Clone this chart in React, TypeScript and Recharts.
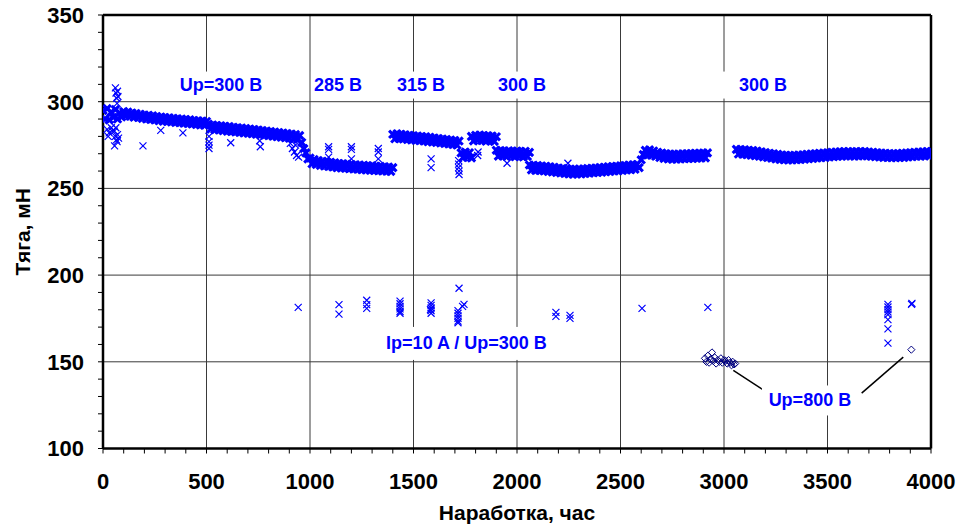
import {
  ScatterChart,
  Scatter,
  XAxis,
  YAxis,
  CartesianGrid,
  ReferenceLine,
  ReferenceDot,
} from "recharts";

// main thrust band, one reading every 10 h, starting at the given hour
const BAND_STEP = 10;

const BAND_A = [295, 290, 296, 289.5, 294, 291, 295.5, 290];
const BAND_B = [
  293.6, 291.2, 294.3, 291.8, 294.0, 291.6, 293.5, 291.0, 293.2, 290.9, 292.8,
  290.4, 292.3, 290.0, 292.1, 289.7, 291.8, 289.5, 291.4, 289.1, 291.2, 288.8,
  290.9, 288.6, 290.7, 288.3, 290.4, 288.1, 290.1, 287.9, 290.0, 287.6, 289.7,
  287.4, 289.5, 287.1, 289.2, 286.9, 289.0, 286.6, 288.8, 286.4, 288.6,
];
const BAND_C = [
  287.0, 284.2, 286.6, 283.9, 286.3, 283.7, 286.1, 283.3, 285.8, 283.0, 285.6,
  282.8, 285.3, 282.6, 285.0, 282.3, 284.8, 282.0, 284.5, 281.8, 284.2, 281.5,
  284.0, 281.2, 283.7, 281.0, 283.4, 280.7, 283.1, 280.4, 282.8, 280.1, 282.5,
  279.8, 282.2, 279.5, 281.9, 279.2, 281.6, 278.9, 281.3, 278.6, 281.0, 278.3,
  280.5,
];
const BAND_D = [
  276.5, 273, 270.5, 267, 267.5, 264.2, 266.6, 263.8, 266.1, 263.3, 265.7,
  262.9, 265.3, 262.6, 265.0, 262.3, 264.7, 262.0, 264.4, 261.8, 264.2, 261.6,
  264.0, 261.3, 263.8, 261.2, 263.6, 261.0, 263.5, 260.8, 263.3, 260.7, 263.1,
  260.5, 263.0, 260.3, 262.8, 260.2, 262.7, 260.0, 262.5, 259.9, 262.3, 259.8,
  262.0,
];
const BAND_E = [
  281.2, 278.6, 281.5, 278.8, 281.2, 278.5, 280.9, 278.2, 280.6, 278.0, 280.4,
  277.8, 280.2, 277.5, 279.9, 277.3, 279.7, 277.0, 279.4, 276.8, 279.1, 276.5,
  278.8, 276.2, 278.5, 275.9, 278.2, 275.6, 277.9, 275.3, 277.6, 275.0, 277.3,
];
const BAND_F = [270.5, 267.8, 271.0, 268.0, 270.6, 267.6];
const BAND_G = [
  280.0, 277.4, 280.6, 277.8, 280.8, 277.6, 280.5, 277.2, 280.4, 277.5, 280.2,
  277.1, 279.8,
];
const BAND_H = [
  272.0, 268.6, 271.8, 268.9, 271.5, 268.4, 271.7, 268.7, 271.4, 268.3, 271.6,
  268.5, 271.2, 268.2, 271.4, 268.4, 270.8,
];
const BAND_I = [
  263.5, 260.6, 263.3, 260.4, 263.2, 260.3, 262.9, 260.1, 262.7, 259.8, 262.4,
  259.5, 262.1, 259.2, 261.8, 258.9, 261.5, 258.6, 261.2, 258.3, 261.0, 258.2,
  261.0, 258.3, 261.1, 258.4, 261.2, 258.6, 261.4, 258.8, 261.6, 259.0, 261.8,
  259.2, 262.0, 259.4, 262.2, 259.6, 262.4, 259.8, 262.6, 260.0, 262.8, 260.2,
  263.0, 260.4, 263.2, 260.6, 263.4, 260.8, 263.6, 261.0, 263.8, 262.0,
];
const BAND_J = [
  266.5, 269.5, 272.0, 269.3, 272.2, 269.1, 271.6, 268.5, 270.8, 267.8, 270.4,
  267.3, 270.0, 267.0, 269.8, 266.9, 269.7, 266.9, 269.8, 267.0, 269.9, 267.1,
  270.0, 267.2, 270.1, 267.3, 270.2, 267.4, 270.3, 267.5, 270.4, 267.6, 270.5,
];
const BAND_K = [
  272.5, 269.8, 272.4, 269.7, 272.2, 269.5, 272.0, 269.2, 271.8, 268.9, 271.5,
  268.6, 271.1, 268.2, 270.7, 267.8, 270.3, 267.4, 269.9, 267.0, 269.6, 266.7,
  269.3, 266.5, 269.1, 266.4, 269.0, 266.4, 269.1, 266.5, 269.2, 266.7, 269.4,
  266.9, 269.6, 267.1, 269.8, 267.3, 270.0, 267.5, 270.2, 267.7, 270.4, 267.9,
  270.6, 268.1, 270.8, 268.3, 271.0, 268.5, 271.1, 268.6, 271.2, 268.7, 271.2,
  268.7, 271.1, 268.6, 271.2, 268.7, 271.3, 268.8, 271.2, 268.7, 271.0, 268.5,
  270.8, 268.3, 270.6, 268.1, 270.4, 267.9, 270.2, 267.8, 270.1, 267.7, 270.0,
  267.7, 270.1, 267.8, 270.2, 267.9, 270.4, 268.1, 270.6, 268.3, 270.8, 268.5,
  271.0, 268.6, 271.1, 268.7, 271.2, 268.8, 271.2,
];

const BAND_SEGMENTS = [
  { start: 0, values: BAND_A },
  { start: 80, values: BAND_B },
  { start: 510, values: BAND_C },
  { start: 960, values: BAND_D },
  { start: 1400, values: BAND_E },
  { start: 1730, values: BAND_F },
  { start: 1780, values: BAND_G },
  { start: 1900, values: BAND_H },
  { start: 2060, values: BAND_I },
  { start: 2600, values: BAND_J },
  { start: 3060, values: BAND_K },
];

// scattered readings around the main band [hours, mN]
const UPPER_SCATTER = [
  [20, 284], [30, 282], [40, 285], [25, 280], [45, 283],
  [60, 308], [63, 305], [66, 302], [70, 306], [68, 299], [72, 303],
  [55, 283], [60, 280], [65, 278], [70, 281], [75, 279], [62, 285], [68, 277], [56, 274.5],
  [193, 274.5], [279, 283.5], [386, 282],
  [512, 280], [512, 277], [512, 275], [512, 273],
  [617, 276.3], [757, 277.5], [760, 274],
  [905, 276], [915, 273], [925, 271], [935, 269], [945, 268], [930, 275],
  [1090, 274], [1090, 272.5], [1090, 268],
  [1200, 274], [1200, 272.5], [1200, 267],
  [1330, 273], [1330, 271], [1330, 267],
  [1585, 267], [1585, 262],
  [1718, 266], [1718, 264], [1718, 262], [1720, 260], [1720, 258],
  [1810, 269], [1812, 271],
  [1952, 264.5], [2246, 264.5],
];

// Ip=10 A readings
const LOWER_SCATTER = [
  [943, 181.4],
  [1140, 183], [1140, 177.5],
  [1274, 185.5], [1274, 183], [1274, 180.8],
  [1435, 185], [1435, 183.5], [1435, 182], [1435, 180.5], [1435, 179], [1435, 178],
  [1585, 184], [1585, 182.5], [1585, 181], [1585, 179.5], [1585, 178], [1582, 180],
  [1720, 192.4], [1744, 183.1], [1737, 182],
  [1715, 179.5], [1715, 178], [1715, 176.5], [1715, 175], [1715, 173.5], [1715, 172.5],
  [2188, 178.5], [2188, 176.2],
  [2256, 176.8], [2256, 175],
  [2604, 180.8], [2922, 181.4],
  [3792, 183.1], [3792, 181.6], [3792, 180.1], [3792, 178.7], [3792, 177.2],
  [3792, 174.3], [3792, 169], [3792, 160.8],
  [3908, 183.7], [3906, 183.2],
];

// Up=800 В readings
const DIAMONDS = [
  [2908, 152], [2915, 150], [2922, 153.5], [2928, 149.5], [2935, 151.5],
  [2942, 155.4], [2948, 150.5], [2955, 152.5], [2962, 149], [2970, 151],
  [2978, 150], [2985, 152], [2992, 149.5], [3000, 151], [3008, 150.5],
  [3015, 149], [3022, 151], [3030, 149.5], [3036, 148], [3042, 150],
  [3048, 148.5], [3054, 149],
  [3905, 157],
];

const X_TICKS = Array.from({ length: 41 }, (_, i) => i * 100);
const Y_TICKS = Array.from({ length: 26 }, (_, i) => 100 + i * 10);
const X_GRID = [0, 500, 1000, 1500, 2000, 2500, 3000, 3500, 4000];
const Y_GRID = [100, 150, 200, 250, 300, 350];

const ANNOTATIONS = [
  { text: "Up=300 В", x: 570, y: 309.6, w: 94, h: 27, dx: 0 },
  { text: "285 В", x: 1135, y: 309.6, w: 54, h: 27, dx: 0 },
  { text: "315 В", x: 1536, y: 309.6, w: 56, h: 27, dx: 0 },
  { text: "300 В", x: 2024, y: 309.6, w: 56, h: 27, dx: 0 },
  { text: "300 В", x: 3188, y: 309.6, w: 72, h: 27, dx: -6 },
  { text: "Ip=10 A / Up=300 В", x: 1756, y: 160.6, w: 178, h: 33, dx: 0 },
  { text: "Up=800 В", x: 3415, y: 127.7, w: 96, h: 30, dx: 0 },
];

const bandData = BAND_SEGMENTS.flatMap((s) =>
  s.values.map((v, i) => ({ x: s.start + i * BAND_STEP, y: v }))
);
const toPoints = (rows: number[][]) => rows.map(([x, y]) => ({ x, y }));

const BLUE = "#0000ff";

function Cross(props: any) {
  const { cx, cy, r = 3.5, sw = 1.2 } = props;
  return (
    <path
      d={`M${cx - r},${cy - r}L${cx + r},${cy + r}M${cx + r},${cy - r}L${cx - r},${cy + r}`}
      stroke={BLUE}
      strokeWidth={sw}
      fill="none"
    />
  );
}

function Diamond(props: any) {
  const { cx, cy } = props;
  const r = 3.6;
  return (
    <path
      d={`M${cx},${cy - r}L${cx + r},${cy}L${cx},${cy + r}L${cx - r},${cy}Z`}
      stroke="#000080"
      strokeWidth={1}
      fill="none"
    />
  );
}

function YTick(props: any) {
  const { x, y, payload } = props;
  if (payload.value % 50 !== 0) return <g />;
  return (
    <text x={x} y={y} dy="0.36em" textAnchor="end" fontSize={22} fontWeight="bold" fill="#000">
      {payload.value}
    </text>
  );
}

function XTick(props: any) {
  const { x, y, payload } = props;
  if (payload.value % 500 !== 0) return <g />;
  return (
    <text x={x} y={y} dy="0.72em" textAnchor="middle" fontSize={22} fontWeight="bold" fill="#000">
      {payload.value}
    </text>
  );
}

export default function App() {
  return (
    <div style={{ position: "absolute", left: 0, top: 0, fontFamily: "'Liberation Sans', Arial, sans-serif" }}>
      <ScatterChart width={961} height={526} margin={{ top: 15, right: 30, bottom: 0, left: 0 }}>
        <XAxis xAxisId="g" type="number" dataKey="x" domain={[0, 4000]} ticks={X_GRID} hide allowDataOverflow />
        <YAxis yAxisId="g" type="number" dataKey="y" domain={[100, 350]} ticks={Y_GRID} hide allowDataOverflow />
        <CartesianGrid xAxisId="g" yAxisId="g" stroke="#3a3a3a" strokeWidth={1} />
        <XAxis
          type="number"
          dataKey="x"
          domain={[0, 4000]}
          ticks={X_TICKS}
          interval={0}
          height={77.5}
          tickSize={5}
          tickMargin={20}
          axisLine={{ stroke: "#000", strokeWidth: 2.5 }}
          tickLine={{ stroke: "#000" }}
          tick={<XTick />}
          allowDataOverflow
          label={{
            content: ({ viewBox }: any) => (
              <text
                x={viewBox.x + viewBox.width / 2}
                y={viewBox.y + 64}
                textAnchor="middle"
                dominantBaseline="central"
                fontSize={21}
                fontWeight="bold"
                fill="#000"
              >
                Наработка, час
              </text>
            ),
          }}
        />
        <YAxis
          type="number"
          dataKey="y"
          domain={[100, 350]}
          ticks={Y_TICKS}
          interval={0}
          width={103}
          tickSize={5}
          tickMargin={14}
          axisLine={{ stroke: "#000", strokeWidth: 2.5 }}
          tickLine={{ stroke: "#000" }}
          tick={<YTick />}
          allowDataOverflow
          label={{
            content: ({ viewBox }: any) => (
              <text
                transform={`translate(${viewBox.x + 22},${viewBox.y + viewBox.height / 2}) rotate(-90)`}
                textAnchor="middle"
                dominantBaseline="central"
                fontSize={21}
                fontWeight="bold"
                fill="#000"
              >
                Тяга, мН
              </text>
            ),
          }}
        />
        <ReferenceLine y={350} stroke="#000" strokeWidth={2.5} />
        <ReferenceLine x={4000} stroke="#000" strokeWidth={2.5} />
        <Scatter data={bandData} shape={<Cross r={3.7} sw={3.1} />} isAnimationActive={false} />
        <Scatter data={toPoints(UPPER_SCATTER)} shape={<Cross />} isAnimationActive={false} />
        <Scatter data={toPoints(LOWER_SCATTER)} shape={<Cross />} isAnimationActive={false} />
        <Scatter data={toPoints(DIAMONDS)} shape={<Diamond />} isAnimationActive={false} />
        <ReferenceLine segment={[{ x: 3045, y: 145 }, { x: 3206, y: 132.5 }]} stroke="#000" strokeWidth={1.5} />
        <ReferenceLine segment={[{ x: 3665, y: 131.9 }, { x: 3866, y: 152.7 }]} stroke="#000" strokeWidth={1.5} />
        {ANNOTATIONS.map((a, i) => (
          <ReferenceDot
            key={i}
            x={a.x}
            y={a.y}
            r={1}
            fill="none"
            stroke="none"
            label={(p: any) => {
              const vb = p.viewBox;
              const cx = vb.x + vb.width / 2;
              const cy = vb.y + vb.height / 2;
              return (
                <g>
                  <rect x={cx - a.w / 2 + a.dx} y={cy - a.h / 2} width={a.w} height={a.h} fill="#fff" />
                  <text
                    x={cx}
                    y={cy}
                    textAnchor="middle"
                    dominantBaseline="central"
                    fontSize={18}
                    fontWeight="bold"
                    fill={BLUE}
                  >
                    {a.text}
                  </text>
                </g>
              );
            }}
          />
        ))}
      </ScatterChart>
    </div>
  );
}
